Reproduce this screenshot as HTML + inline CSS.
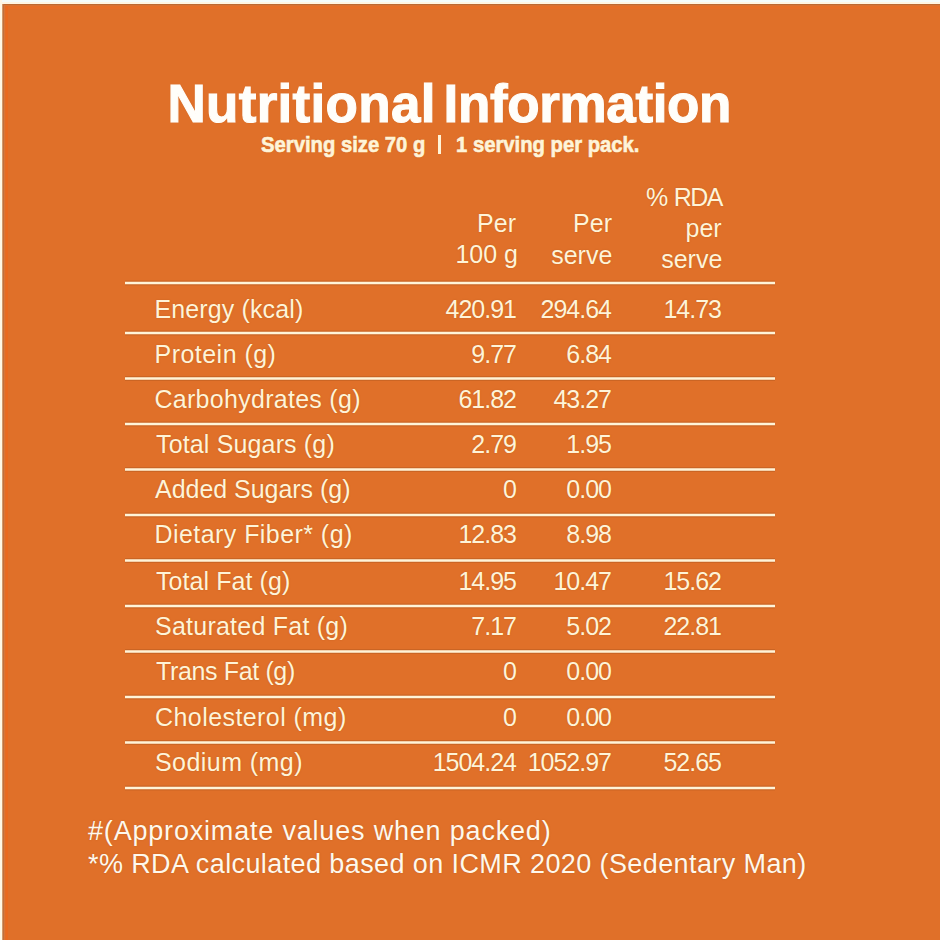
<!DOCTYPE html>
<html><head><meta charset="utf-8"><title>Nutritional Information</title>
<style>
html,body{margin:0;padding:0;}
body{width:940px;height:940px;overflow:hidden;position:relative;background:#E07029;font-family:"Liberation Sans",sans-serif;color:#FFF4D8;font-size:25px;line-height:30px;}
.t{position:absolute;white-space:pre;text-shadow:0 0 1.2px rgba(150,70,20,0.55);}
.r{text-align:right;}
.ln{position:absolute;left:125px;width:650px;height:2px;background:#FFF4D8;}
.e{position:absolute;}
</style></head><body>
<div class="e" style="left:0px;top:0px;width:940px;height:2px;background:#F4FDFB"></div><div class="e" style="left:0px;top:2px;width:940px;height:2px;background:#FFF6E2"></div><div class="e" style="left:2px;top:4px;width:938px;height:1px;background:#BE6A30"></div><div class="e" style="left:4px;top:5px;width:936px;height:1px;background:#D67434"></div><div class="e" style="left:5px;top:6px;width:935px;height:3px;background:#E66F26"></div><div class="e" style="left:0px;top:0px;width:2px;height:940px;background:#FFF8E6"></div><div class="e" style="left:2px;top:4px;width:1px;height:936px;background:#D49A6A"></div><div class="e" style="left:3px;top:4px;width:1px;height:936px;background:#BE7040"></div><div class="e" style="left:4px;top:5px;width:1px;height:935px;background:#DA7636"></div><div class="e" style="left:5px;top:6px;width:1px;height:934px;background:#E46C24"></div><div class="e" style="left:6px;top:6px;width:2px;height:934px;background:#EA6A1E"></div>
<div class="t" style="-webkit-text-stroke:1.1px #FFFEFA;top:72.22px;font-size:53px;line-height:64px;font-weight:700;letter-spacing:0.29px;color:#FFFEFA;left:167.5px;">Nutritional</div>
<div class="t" style="-webkit-text-stroke:1.1px #FFFEFA;top:72.22px;font-size:53px;line-height:64px;font-weight:700;letter-spacing:-0.35px;color:#FFFEFA;left:443.5px;">Information</div>
<div class="t" style="top:132.98px;font-size:20.25px;line-height:24px;font-weight:700;transform:scaleY(1.06);transform-origin:0 19.02px;-webkit-text-stroke:0.6px #FFF4D8;left:261px;">Serving size 70 g</div>
<div style="position:absolute;left:438px;top:135px;width:3px;height:19px;background:#FFF4D8"></div>
<div class="t" style="top:132.98px;font-size:20.25px;line-height:24px;font-weight:700;transform:scaleY(1.06);transform-origin:0 19.02px;-webkit-text-stroke:0.6px #FFF4D8;left:456px;">1 serving per pack.</div>
<div class="t r" style="top:208.03px;right:424.00px;">Per</div>
<div class="t r" style="top:238.83px;right:422.00px;">100 g</div>
<div class="t r" style="top:208.03px;right:328.00px;">Per</div>
<div class="t r" style="top:240.03px;right:327.70px;">serve</div>
<div class="t r" style="top:182.23px;letter-spacing:-1.5px;right:218.00px;">%<span style="letter-spacing:0"> </span>RDA</div>
<div class="t r" style="top:212.83px;right:218.30px;">per</div>
<div class="t r" style="top:244.33px;right:217.70px;">serve</div>
<div class="t" style="top:293.83px;letter-spacing:0.125px;left:154.5px;">Energy (kcal)</div>
<div class="t r" style="top:293.83px;letter-spacing:-1.0px;right:424.00px;">420.91</div>
<div class="t r" style="top:293.83px;letter-spacing:-1.0px;right:329.00px;">294.64</div>
<div class="t r" style="top:293.83px;letter-spacing:-1.0px;right:219.00px;">14.73</div>
<div class="t" style="top:338.83px;letter-spacing:0.47px;left:154.5px;">Protein (g)</div>
<div class="t r" style="top:338.83px;letter-spacing:-1.0px;right:424.00px;">9.77</div>
<div class="t r" style="top:338.83px;letter-spacing:-1.0px;right:329.00px;">6.84</div>
<div class="t" style="top:383.83px;letter-spacing:0.28px;left:154.5px;">Carbohydrates (g)</div>
<div class="t r" style="top:383.83px;letter-spacing:-1.0px;right:424.00px;">61.82</div>
<div class="t r" style="top:383.83px;letter-spacing:-1.0px;right:329.00px;">43.27</div>
<div class="t" style="top:429.33px;letter-spacing:0.15px;left:156px;">Total Sugars (g)</div>
<div class="t r" style="top:429.33px;letter-spacing:-1.0px;right:424.00px;">2.79</div>
<div class="t r" style="top:429.33px;letter-spacing:-1.0px;right:329.00px;">1.95</div>
<div class="t" style="top:473.83px;letter-spacing:-0.03px;left:155px;">Added Sugars (g)</div>
<div class="t r" style="top:473.83px;letter-spacing:-1.0px;right:424.00px;">0</div>
<div class="t r" style="top:473.83px;letter-spacing:-1.0px;right:329.00px;">0.00</div>
<div class="t" style="top:519.33px;letter-spacing:0.44px;left:154.5px;">Dietary Fiber* (g)</div>
<div class="t r" style="top:519.33px;letter-spacing:-1.0px;right:424.00px;">12.83</div>
<div class="t r" style="top:519.33px;letter-spacing:-1.0px;right:329.00px;">8.98</div>
<div class="t" style="top:566.03px;letter-spacing:0.08px;left:156px;">Total Fat (g)</div>
<div class="t r" style="top:566.03px;letter-spacing:-1.0px;right:424.00px;">14.95</div>
<div class="t r" style="top:566.03px;letter-spacing:-1.0px;right:329.00px;">10.47</div>
<div class="t r" style="top:566.03px;letter-spacing:-1.0px;right:219.00px;">15.62</div>
<div class="t" style="top:611.33px;letter-spacing:0.24px;left:155px;">Saturated Fat (g)</div>
<div class="t r" style="top:611.33px;letter-spacing:-1.0px;right:424.00px;">7.17</div>
<div class="t r" style="top:611.33px;letter-spacing:-1.0px;right:329.00px;">5.02</div>
<div class="t r" style="top:611.33px;letter-spacing:-1.0px;right:219.00px;">22.81</div>
<div class="t" style="top:656.33px;letter-spacing:-0.36px;left:156px;">Trans Fat (g)</div>
<div class="t r" style="top:656.33px;letter-spacing:-1.0px;right:424.00px;">0</div>
<div class="t r" style="top:656.33px;letter-spacing:-1.0px;right:329.00px;">0.00</div>
<div class="t" style="top:701.83px;letter-spacing:0.43px;left:155px;">Cholesterol (mg)</div>
<div class="t r" style="top:701.83px;letter-spacing:-1.0px;right:424.00px;">0</div>
<div class="t r" style="top:701.83px;letter-spacing:-1.0px;right:329.00px;">0.00</div>
<div class="t" style="top:747.33px;letter-spacing:0.44px;left:155px;">Sodium (mg)</div>
<div class="t r" style="top:747.33px;letter-spacing:-1.0px;right:424.00px;">1504.24</div>
<div class="t r" style="top:747.33px;letter-spacing:-1.0px;right:329.00px;">1052.97</div>
<div class="t r" style="top:747.33px;letter-spacing:-1.0px;right:219.00px;">52.65</div>
<svg style="position:absolute;left:0;top:0" width="940" height="940"><rect x="125" y="280.55" width="650" height="4.9" fill="#A0501E" fill-opacity="0.35"/><rect x="125" y="281.75" width="650" height="2.5" fill="#FFF4D8"/><rect x="125" y="330.55" width="650" height="4.9" fill="#A0501E" fill-opacity="0.35"/><rect x="125" y="331.75" width="650" height="2.5" fill="#FFF4D8"/><rect x="125" y="376.05" width="650" height="4.9" fill="#A0501E" fill-opacity="0.35"/><rect x="125" y="377.25" width="650" height="2.5" fill="#FFF4D8"/><rect x="125" y="421.55" width="650" height="4.9" fill="#A0501E" fill-opacity="0.35"/><rect x="125" y="422.75" width="650" height="2.5" fill="#FFF4D8"/><rect x="125" y="467.05" width="650" height="4.9" fill="#A0501E" fill-opacity="0.35"/><rect x="125" y="468.25" width="650" height="2.5" fill="#FFF4D8"/><rect x="125" y="512.55" width="650" height="4.9" fill="#A0501E" fill-opacity="0.35"/><rect x="125" y="513.75" width="650" height="2.5" fill="#FFF4D8"/><rect x="125" y="558.05" width="650" height="4.9" fill="#A0501E" fill-opacity="0.35"/><rect x="125" y="559.25" width="650" height="2.5" fill="#FFF4D8"/><rect x="125" y="603.55" width="650" height="4.9" fill="#A0501E" fill-opacity="0.35"/><rect x="125" y="604.75" width="650" height="2.5" fill="#FFF4D8"/><rect x="125" y="649.05" width="650" height="4.9" fill="#A0501E" fill-opacity="0.35"/><rect x="125" y="650.25" width="650" height="2.5" fill="#FFF4D8"/><rect x="125" y="694.55" width="650" height="4.9" fill="#A0501E" fill-opacity="0.35"/><rect x="125" y="695.75" width="650" height="2.5" fill="#FFF4D8"/><rect x="125" y="740.05" width="650" height="4.9" fill="#A0501E" fill-opacity="0.35"/><rect x="125" y="741.25" width="650" height="2.5" fill="#FFF4D8"/><rect x="125" y="785.55" width="650" height="4.9" fill="#A0501E" fill-opacity="0.35"/><rect x="125" y="786.75" width="650" height="2.5" fill="#FFF4D8"/></svg>
<div class="t" style="top:814.84px;font-size:27px;line-height:32px;letter-spacing:0.81px;color:#FFF8EC;left:88px;">#(Approximate values when packed)</div>
<div class="t" style="top:847.94px;font-size:27px;line-height:32px;letter-spacing:0.4px;color:#FFF8EC;left:88px;">*% RDA calculated based on ICMR 2020 (Sedentary Man)</div>
</body></html>
